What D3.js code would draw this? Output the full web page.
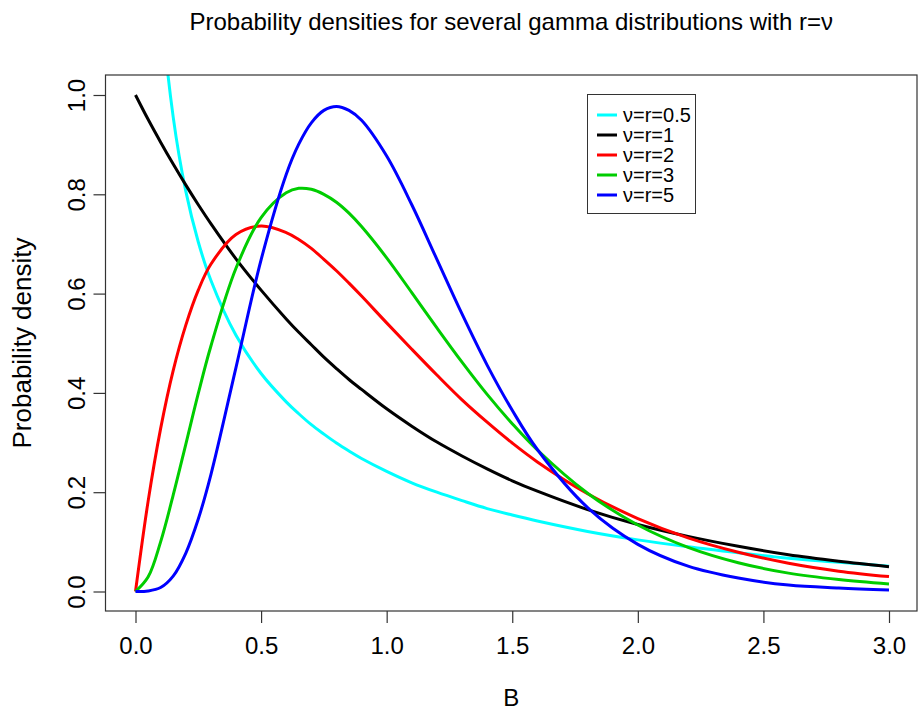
<!DOCTYPE html>
<html lang="en">
    <head>
        <meta charset="utf-8">
        <title>Gamma densities</title>
        <script src="https://cdn.jsdelivr.net/npm/d3@7"></script>
        <style>
            body { margin: 0; background: #fff; }
            text { font-family: "Liberation Sans", Arial, sans-serif; fill: #000; }
        </style>
    </head>
    <body>
        <script>
            // x grid shared by all curves (B values)
            var xGrid = [0, 0.05, 0.1, 0.15, 0.2, 0.25, 0.3, 0.4, 0.5, 0.6, 0.65, 0.7, 0.75, 0.8, 0.85, 0.9, 1.0,
                         1.1, 1.2, 1.3, 1.4, 1.5, 1.6, 1.8, 2.0, 2.2, 2.4, 2.6, 2.8, 3.0];

            // densities (null = off the top)
            var nu05 = [null, 1.74, 1.20, 0.956, 0.807, 0.704, 0.627, 0.516, 0.439, 0.382, 0.358, 0.336, 0.317, 0.299, 0.283, 0.268, 0.242,
                        0.219, 0.200, 0.183, 0.167, 0.154, 0.142, 0.121, 0.104, 0.090, 0.078, 0.067, 0.059, 0.051];
            var nu1  = [1.0, 0.951, 0.905, 0.861, 0.819, 0.779, 0.741, 0.670, 0.607, 0.549, 0.522, 0.497, 0.472, 0.449, 0.427, 0.407, 0.368,
                        0.333, 0.301, 0.273, 0.247, 0.223, 0.202, 0.165, 0.135, 0.111, 0.091, 0.074, 0.061, 0.050];
            var nu2  = [0, 0.181, 0.328, 0.445, 0.536, 0.607, 0.659, 0.719, 0.736, 0.723, 0.709, 0.691, 0.669, 0.646, 0.621, 0.595, 0.541,
                        0.488, 0.436, 0.386, 0.341, 0.299, 0.261, 0.197, 0.147, 0.108, 0.079, 0.057, 0.041, 0.030];
            var nu3  = [0, 0.029, 0.100, 0.194, 0.296, 0.399, 0.494, 0.651, 0.753, 0.803, 0.812, 0.810, 0.800, 0.784, 0.762, 0.735, 0.672,
                        0.602, 0.531, 0.462, 0.397, 0.338, 0.285, 0.198, 0.134, 0.089, 0.058, 0.037, 0.024, 0.015];
            var nu5  = [0, 0.001, 0.008, 0.031, 0.077, 0.146, 0.235, 0.451, 0.668, 0.840, 0.901, 0.944, 0.969, 0.977, 0.969, 0.949, 0.877,
                        0.779, 0.669, 0.559, 0.456, 0.365, 0.286, 0.169, 0.095, 0.051, 0.027, 0.013, 0.007, 0.003];

            var labels = ["\u03bd=r=0.5", "\u03bd=r=1", "\u03bd=r=2", "\u03bd=r=3", "\u03bd=r=5"];
            var colors = ["#00ffff", "#000000", "#ff0000", "#00cd00", "#0000ff"];
            var series = [nu05, nu1, nu2, nu3, nu5];

            var xTicks = [0, 0.5, 1.0, 1.5, 2.0, 2.5, 3.0];
            var yTicks = [0, 0.2, 0.4, 0.6, 0.8, 1.0];

            var w = 918, h = 710;
            // plot box (don't call it "top", that is window.top)
            var boxL = 105.5, boxR = 917, boxT = 75, boxB = 611;

            var svg = d3.select("body").append("svg")
                        .attr("width", w)
                        .attr("height", h);

            var xScale = d3.scaleLinear().domain([0, 3]).range([135.5, 889]);
            var yScale = d3.scaleLinear().domain([0, 1]).range([591.5, 95]);

            svg.append("clipPath").attr("id", "plotclip")
                .append("rect")
                .attr("x", boxL).attr("y", boxT)
                .attr("width", boxR - boxL).attr("height", boxB - boxT);

            var line = d3.line()
                .defined(function(d) { return d[1] !== null; })
                .x(function(d) { return xScale(d[0]); })
                .y(function(d) { return yScale(d[1]); })
                .curve(d3.curveCatmullRom.alpha(0.5));

            svg.append("g").attr("clip-path", "url(#plotclip)")
                .selectAll("path")
                .data(series)
                .enter()
                .append("path")
                .attr("d", function(s) {
                    return line(xGrid.map(function(x, i) { return [x, s[i]]; }));
                })
                .attr("fill", "none")
                .attr("stroke", function(d, i) { return colors[i]; })
                .attr("stroke-width", 3);

            // box
            svg.append("rect")
                .attr("x", boxL).attr("y", boxT)
                .attr("width", boxR - boxL).attr("height", boxB - boxT)
                .attr("fill", "none")
                .attr("stroke", "#333")
                .attr("stroke-width", 1.2);

            // axes
            var xAxis = d3.axisBottom(xScale).tickValues(xTicks)
                .tickFormat(d3.format(".1f")).tickSize(12).tickPadding(14);
            var gx = svg.append("g").attr("transform", "translate(0," + boxB + ")").call(xAxis);
            gx.select(".domain").remove();
            gx.selectAll("line").attr("stroke", "#333").attr("stroke-width", 1.2);
            gx.selectAll("text").attr("font-size", "24px")
                .attr("font-family", "Liberation Sans, Arial, sans-serif");

            var yAxis = d3.axisLeft(yScale).tickValues(yTicks)
                .tickFormat(d3.format(".1f")).tickSize(12);
            var gy = svg.append("g").attr("transform", "translate(" + boxL + ",0)").call(yAxis);
            gy.select(".domain").remove();
            gy.selectAll("line").attr("stroke", "#333").attr("stroke-width", 1.2);
            gy.selectAll("text")
                .attr("x", null).attr("dy", null)
                .attr("text-anchor", "middle")
                .attr("font-size", "24px")
                .attr("font-family", "Liberation Sans, Arial, sans-serif")
                .attr("transform", "translate(-21,0) rotate(-90)");

            // titles
            svg.append("text")
                .attr("x", (boxL + boxR) / 2).attr("y", 30)
                .attr("text-anchor", "middle")
                .attr("font-size", "24px")
                .text("Probability densities for several gamma distributions with r=\u03bd");

            svg.append("text")
                .attr("x", (boxL + boxR) / 2).attr("y", 706)
                .attr("text-anchor", "middle")
                .attr("font-size", "24px")
                .text("B");

            svg.append("text")
                .attr("transform", "translate(31," + (boxT + boxB) / 2 + ") rotate(-90)")
                .attr("text-anchor", "middle")
                .attr("font-size", "26px")
                .text("Probability density");

            // legend
            var lg = svg.append("g");
            lg.append("rect")
                .attr("x", 587.5).attr("y", 94.5)
                .attr("width", 108).attr("height", 119)
                .attr("fill", "#fff")
                .attr("stroke", "#333");

            var entries = lg.selectAll("g.entry")
                .data(labels)
                .enter()
                .append("g")
                .attr("transform", function(d, i) { return "translate(0," + (115 + i * 20) + ")"; });

            entries.append("line")
                .attr("x1", 597).attr("x2", 617)
                .attr("stroke", function(d, i) { return colors[i]; })
                .attr("stroke-width", 3);

            entries.append("text")
                .attr("x", 623).attr("y", 7)
                .attr("font-size", "20px")
                .text(function(d) { return d; });
        </script>
    </body>
</html>
